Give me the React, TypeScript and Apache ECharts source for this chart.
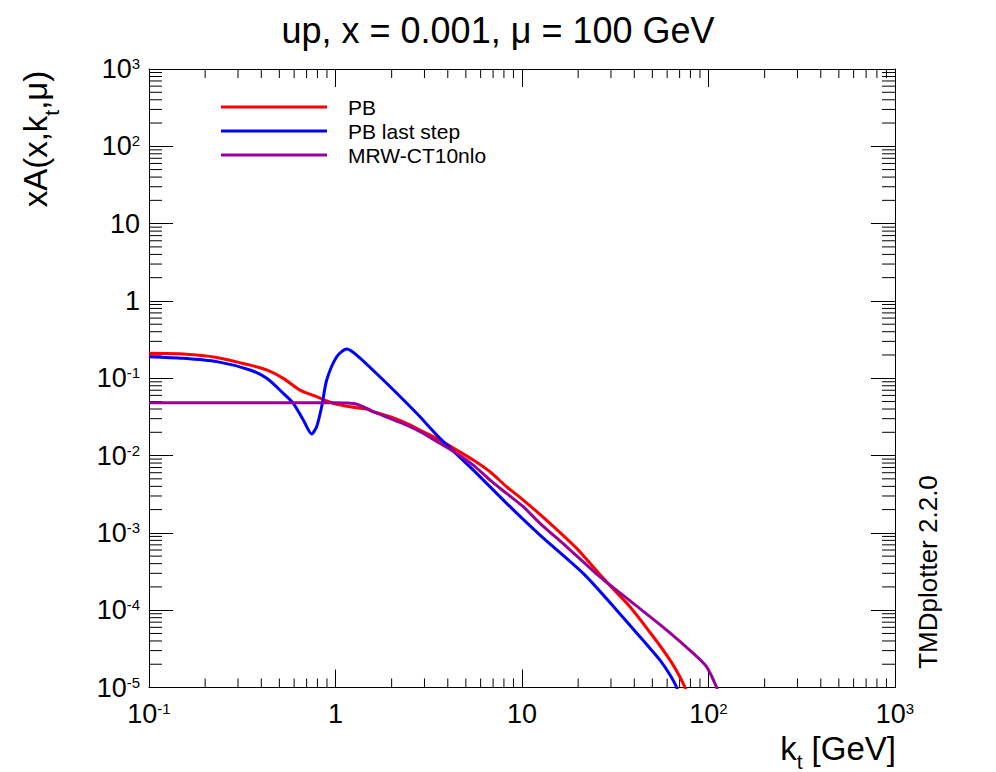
import React, { useEffect, useRef } from "react";
import * as echarts from "echarts";

const FONT = "'Liberation Sans', Arial, Helvetica, sans-serif";

const X_MIN = 0.1;
const X_MAX = 1000;
const Y_MIN = 1e-5;
const Y_MAX = 1000;

const titleText = "up, x = 0.001, \u03bc = 100 GeV";
const seriesNames = ["PB", "PB last step", "MRW-CT10nlo"];
const seriesColors = ["#ff0000", "#0000ff", "#990099"];

const xTickValues = [0.1, 1, 10, 100, 1000];
const xTickLabels = ["10^-1", "1", "10", "10^2", "10^3"];
const yTickValues = [1e-5, 1e-4, 1e-3, 1e-2, 0.1, 1, 10, 100, 1000];
const yTickLabels = ["10^-5", "10^-4", "10^-3", "10^-2", "10^-1", "1", "10", "10^2", "10^3"];

const minorMultipliers = [2, 3, 4, 5, 6, 7, 8, 9];
const xDecades = [0.1, 1, 10, 100];
const yDecades = [1e-5, 1e-4, 1e-3, 1e-2, 0.1, 1, 10, 100];

// PB
const pbKt = [0.1, 0.153, 0.231, 0.348, 0.428, 0.525, 0.645, 0.792, 0.973, 1.196, 1.47, 1.595, 1.96, 2.41, 2.96, 3.63, 4.47, 5.48, 6.74, 8.27, 10.16, 14.13, 19.64, 27.28, 37.9, 50.6, 62.2, 70.3, 74.8, 78];
const pbVal = [0.21, 0.206, 0.186, 0.148, 0.128, 0.0997, 0.0703, 0.0577, 0.0473, 0.0428, 0.04, 0.0369, 0.0318, 0.0261, 0.0203, 0.0159, 0.0118, 0.00875, 0.00617, 0.00395, 0.00266, 0.00133, 6.3e-4, 2.58e-4, 1.11e-4, 4.53e-5, 2.26e-5, 1.37e-5, 1.0e-5, 7e-6];

// PB last step
const lastKt = [0.1, 0.153, 0.231, 0.348, 0.428, 0.525, 0.594, 0.672, 0.745, 0.792, 0.843, 0.897, 1.015, 1.148, 1.299, 1.804, 2.725, 3.634, 5.484, 8.27, 12.49, 21.3, 32.2, 42.9, 54.9, 62.2, 67.5, 70];
const lastVal = [0.19, 0.181, 0.164, 0.128, 0.0997, 0.0638, 0.0473, 0.0288, 0.019, 0.0236, 0.0428, 0.0948, 0.19, 0.239, 0.1995, 0.0948, 0.0352, 0.01668, 0.00649, 0.00241, 9.37e-4, 2.99e-4, 1.0e-4, 4.53e-5, 2.26e-5, 1.45e-5, 1.0e-5, 7e-6];

// MRW-CT10nlo
const mrwKt = [0.1, 0.2, 0.4, 0.7, 1.0, 1.148, 1.299, 1.47, 1.595, 1.96, 2.41, 2.96, 3.63, 4.47, 5.48, 6.74, 8.27, 10.16, 12.49, 17.37, 26.2, 39.5, 59.7, 82.9, 97.7, 110.6, 113];
const mrwVal = [0.0482, 0.0482, 0.0482, 0.0482, 0.0482, 0.0478, 0.0462, 0.0408, 0.0369, 0.0303, 0.0248, 0.0194, 0.0144, 0.01067, 0.00753, 0.00482, 0.00324, 0.00218, 0.00133, 6.61e-4, 2.7e-4, 1.225e-4, 5.53e-5, 2.76e-5, 1.85e-5, 1.0e-5, 8e-6];

const toRich = (s: string) => {
  const [b, e] = s.split("^");
  return e ? `{b|${b}}{s|${e}}` : `{b|${b}}`;
};

const findLabel = (values: number[], labels: string[]) => (v: number) => {
  const i = values.findIndex((t) => Math.abs(Math.log10(t) - Math.log10(v)) < 1e-6);
  return i < 0 ? "" : toRich(labels[i]);
};

const tickRich = {
  b: { fontSize: 27, lineHeight: 26, fontFamily: FONT, color: "#000" },
  s: { fontSize: 15, lineHeight: 15, verticalAlign: "top", fontFamily: FONT, color: "#000" },
};

export default function App() {
  const ref = useRef<HTMLDivElement>(null);

  useEffect(() => {
    document.body.style.margin = "0";
    if (!ref.current) return;
    const chart = echarts.init(ref.current, undefined, { renderer: "svg" });

    const xMinor: number[] = [];
    xDecades.forEach((d) => minorMultipliers.forEach((m) => xMinor.push(d * m)));
    const yMinor: number[] = [];
    yDecades.forEach((d) => minorMultipliers.forEach((m) => yMinor.push(d * m)));

    const axisLine = { show: true, lineStyle: { color: "#000", width: 1 } };

    const lineSeries = [
      [pbKt, pbVal],
      [lastKt, lastVal],
      [mrwKt, mrwVal],
    ].map(([kt, val], i) => ({
      name: seriesNames[i],
      type: "line",
      data: kt.map((k, j) => [k, val[j]]),
      showSymbol: false,
      smooth: 0.25,
      lineStyle: { color: seriesColors[i], width: 3 },
      itemStyle: { color: seriesColors[i] },
      clip: true,
      z: 3,
    }));

    chart.setOption({
      animation: false,
      backgroundColor: "#fff",
      title: {
        text: titleText,
        left: "center",
        top: 7,
        textStyle: { fontSize: 36, fontWeight: "normal", fontFamily: FONT, color: "#000" },
      },
      legend: {
        data: seriesNames,
        orient: "vertical",
        left: 216,
        top: 90,
        icon: "rect",
        itemWidth: 106,
        itemHeight: 3,
        itemGap: 0,
        textStyle: { fontSize: 21, lineHeight: 18, fontFamily: FONT, color: "#000", padding: [6, 0, 0, 16] },
      },
      grid: { left: 149, right: 101, top: 69, bottom: 84.5, containLabel: false },
      xAxis: [
        {
          type: "log",
          logBase: 10,
          min: X_MIN,
          max: X_MAX,
          position: "bottom",
          axisLine,
          axisTick: { show: true, inside: true, length: 18, lineStyle: { color: "#000", width: 1 } },
          splitLine: { show: false },
          axisLabel: { margin: 13, formatter: findLabel(xTickValues, xTickLabels), rich: tickRich },
        },
        {
          type: "log",
          logBase: 10,
          min: X_MIN,
          max: X_MAX,
          position: "top",
          axisLine,
          axisTick: { show: true, inside: true, length: 18, lineStyle: { color: "#000", width: 1 } },
          splitLine: { show: false },
          axisLabel: { show: false },
        },
      ],
      yAxis: [
        {
          type: "log",
          logBase: 10,
          min: Y_MIN,
          max: Y_MAX,
          position: "left",
          axisLine,
          axisTick: { show: true, inside: true, length: 24, lineStyle: { color: "#000", width: 1 } },
          splitLine: { show: false },
          axisLabel: { margin: 9, formatter: findLabel(yTickValues, yTickLabels), rich: tickRich },
        },
        {
          type: "log",
          logBase: 10,
          min: Y_MIN,
          max: Y_MAX,
          position: "right",
          axisLine,
          axisTick: { show: true, inside: true, length: 24, lineStyle: { color: "#000", width: 1 } },
          splitLine: { show: false },
          axisLabel: { show: false },
        },
      ],
      graphic: [
        {
          type: "text",
          x: 35,
          y: 139,
          rotation: Math.PI / 2,
          style: {
            text: "{n|xA(x,k}{t|t}{n|,\u03bc)}",
            align: "center",
            verticalAlign: "middle",
            rich: {
              n: { fontSize: 33, lineHeight: 38, fontFamily: FONT, fill: "#000" },
              t: { fontSize: 21, lineHeight: 21, verticalAlign: "bottom", fontFamily: FONT, fill: "#000", padding: [0, 0, -8, 0] },
            },
          },
        },
        {
          type: "text",
          x: 896,
          y: 748,
          style: {
            text: "{n|k}{t|t}{n| [GeV]}",
            align: "right",
            verticalAlign: "middle",
            rich: {
              n: { fontSize: 33, lineHeight: 28, fontFamily: FONT, fill: "#000" },
              t: { fontSize: 21, lineHeight: 21, verticalAlign: "bottom", fontFamily: FONT, fill: "#000", padding: [0, 0, -10, 0] },
            },
          },
        },
        {
          type: "text",
          x: 928,
          y: 572,
          rotation: Math.PI / 2,
          style: {
            text: "TMDplotter 2.2.0",
            align: "center",
            verticalAlign: "middle",
            fontSize: 26,
            fontFamily: FONT,
            fill: "#000",
          },
        },
      ],
      series: [
        ...lineSeries,
        {
          name: "xMinorTicks",
          type: "custom",
          silent: true,
          clip: false,
          xAxisIndex: 0,
          yAxisIndex: 0,
          data: xMinor.map((v) => [v, Y_MIN]),
          renderItem: (params: any, api: any) => {
            const v = api.value(0);
            const b = api.coord([v, Y_MIN]);
            const t = api.coord([v, Y_MAX]);
            const style = { stroke: "#000", lineWidth: 1 };
            return {
              type: "group",
              children: [
                { type: "line", shape: { x1: b[0], y1: b[1], x2: b[0], y2: b[1] - 9 }, style },
                { type: "line", shape: { x1: t[0], y1: t[1], x2: t[0], y2: t[1] + 9 }, style },
              ],
            };
          },
        },
        {
          name: "yMinorTicks",
          type: "custom",
          silent: true,
          clip: false,
          xAxisIndex: 0,
          yAxisIndex: 0,
          data: yMinor.map((v) => [X_MIN, v]),
          renderItem: (params: any, api: any) => {
            const v = api.value(1);
            const l = api.coord([X_MIN, v]);
            const r = api.coord([X_MAX, v]);
            const style = { stroke: "#000", lineWidth: 1 };
            return {
              type: "group",
              children: [
                { type: "line", shape: { x1: l[0], y1: l[1], x2: l[0] + 13, y2: l[1] }, style },
                { type: "line", shape: { x1: r[0], y1: r[1], x2: r[0] - 13, y2: r[1] }, style },
              ],
            };
          },
        },
      ],
    });

    return () => chart.dispose();
  }, []);

  return <div ref={ref} style={{ width: 996, height: 772 }} />;
}
